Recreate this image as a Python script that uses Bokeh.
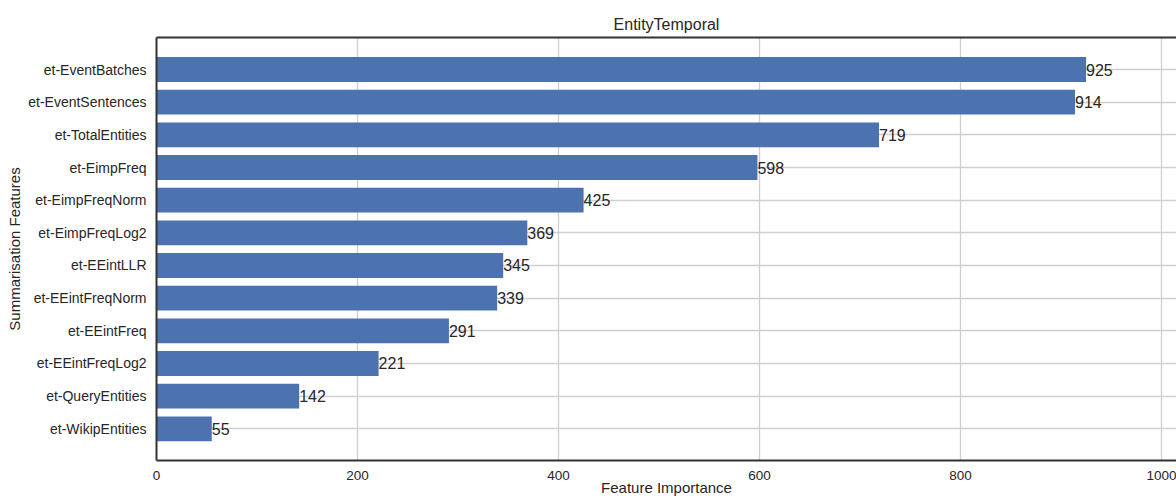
from bokeh.plotting import figure
from bokeh.models import ColumnDataSource, FixedTicker, LinearAxis, Range1d
from bokeh.core.properties import value
from bokeh.embed import file_html
from bokeh.resources import INLINE

# Feature importances, listed from the top bar downwards
features = [
    "et-EventBatches", "et-EventSentences", "et-TotalEntities", "et-EimpFreq",
    "et-EimpFreqNorm", "et-EimpFreqLog2", "et-EEintLLR", "et-EEintFreqNorm",
    "et-EEintFreq", "et-EEintFreqLog2", "et-QueryEntities", "et-WikipEntities",
]
importances = [925, 914, 719, 598, 425, 369, 345, 339, 291, 221, 142, 55]
x_ticks = [0, 200, 400, 600, 800, 1000]

FONT = "Liberation Sans"
TEXT = "#262626"
BAR = "#4c72b0"
SPINE = "#333333"
GRID = "#cfcfcf"

X_MAX = 1015
Y_LO, Y_HI = -0.97, len(features) - 1 + 0.98

n = len(features)
pos = [n - 1 - i for i in range(n)]  # top feature gets the highest y
src = ColumnDataSource(dict(
    y=pos, v=importances, lab=[str(v) for v in importances],
))

p = figure(
    width=1176, height=500, output_backend="svg", toolbar_location=None,
    x_range=Range1d(0, X_MAX), y_range=Range1d(Y_LO, Y_HI),
    title="EntityTemporal",
    min_border_left=156, min_border_right=0, min_border_top=37, min_border_bottom=40,
)

p.hbar(y="y", left=0, right="v", height=0.76, source=src,
       fill_color=BAR, line_color=None)
p.text(x="v", y="y", text="lab", source=src, text_align="left",
       text_baseline="middle", text_font=value(FONT),
       text_font_size="16px", text_color=TEXT)

# title
p.title.align = "center"
p.title.text_font = FONT
p.title.text_font_size = "16px"
p.title.text_font_style = "normal"
p.title.text_color = TEXT
p.title.standoff = 9

# frame: left, bottom and top spines only
p.outline_line_color = None
p.background_fill_color = "white"

xa = p.xaxis[0]
xa.ticker = FixedTicker(ticks=x_ticks)
xa.axis_label = "Feature Importance"
ya = p.yaxis[0]
ya.ticker = FixedTicker(ticks=pos)
ya.major_label_overrides = {pos[i]: features[i] for i in range(n)}
ya.axis_label = "Summarisation Features"

for ax, lab_size in ((xa, "13.5px"), (ya, "14px")):
    ax.axis_line_color = SPINE
    ax.axis_line_width = 2
    ax.major_tick_in = 0
    ax.major_tick_out = 0
    ax.minor_tick_in = 0
    ax.minor_tick_out = 0
    ax.major_label_text_font = FONT
    ax.major_label_text_font_size = lab_size
    ax.major_label_text_color = TEXT
    ax.axis_label_text_font = FONT
    ax.axis_label_text_font_size = "15px"
    ax.axis_label_text_font_style = "normal"
    ax.axis_label_text_color = TEXT

xa.major_label_standoff = 10
xa.axis_label_standoff = -4
ya.major_label_standoff = 10
ya.axis_label_standoff = 2

top = LinearAxis(ticker=FixedTicker(ticks=[]), axis_line_color=SPINE,
                 axis_line_width=2, major_tick_in=0, major_tick_out=0,
                 minor_tick_in=0, minor_tick_out=0, major_label_standoff=0)
p.add_layout(top, "above")

p.xgrid.grid_line_color = GRID
p.xgrid.grid_line_width = 1.3
p.ygrid.grid_line_color = GRID
p.ygrid.grid_line_width = 1.3
p.ygrid.ticker = FixedTicker(ticks=pos)

open("out.html", "w").write(file_html(p, INLINE))
